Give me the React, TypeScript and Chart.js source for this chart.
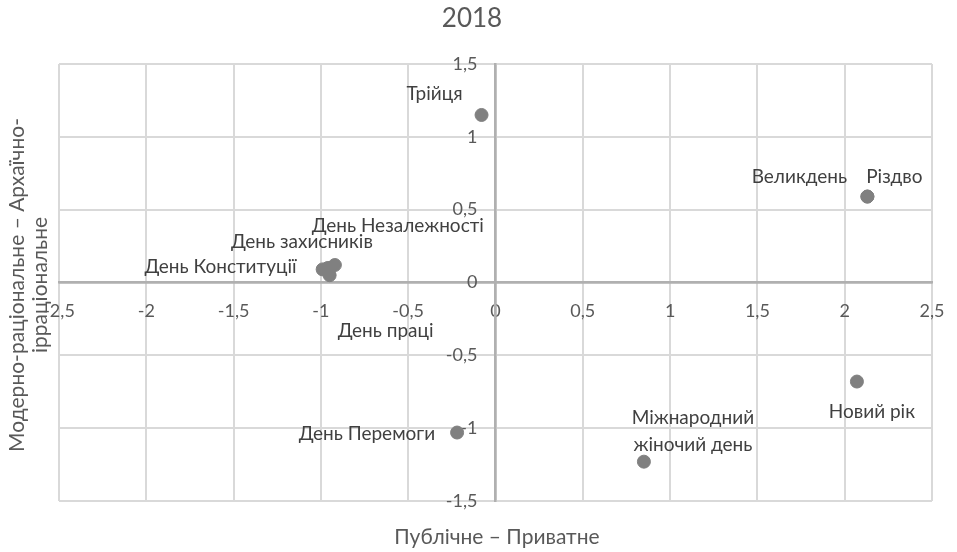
import React, { useEffect, useRef } from 'react';
import { Chart, registerables } from 'chart.js';

Chart.register(...registerables);

const holidays = [
  'Трійця',
  'Великдень',
  'Різдво',
  'Новий рік',
  'Міжнародний\nжіночий день',
  'День Перемоги',
  'День Незалежності',
  'День захисників',
  'День Конституції',
  'День праці',
];
const xValues = [-0.08, 2.13, 2.13, 2.07, 0.85, -0.22, -0.92, -0.96, -0.99, -0.95];
const yValues = [1.15, 0.59, 0.59, -0.68, -1.23, -1.03, 0.12, 0.1, 0.09, 0.05];
const xTickLabels = ['-2,5', '-2', '-1,5', '-1', '-0,5', '0', '0,5', '1', '1,5', '2', '2,5'];
const yTickLabels = ['-1,5', '-1', '-0,5', '0', '0,5', '1', '1,5'];
const chartTitle = '2018';
const xAxisTitle = 'Публічне – Приватне';
const yAxisTitleLines = ['Модерно-раціональне – Архаїчно-', 'ірраціональне'];

// label placement relative to each point (pixels)
const labelLayout: { dx: number; dy: number; align: CanvasTextAlign }[] = [
  { dx: -47, dy: -15, align: 'center' },
  { dx: -68, dy: -14, align: 'center' },
  { dx: 27, dy: -14, align: 'center' },
  { dx: 15, dy: 36, align: 'center' },
  { dx: 49, dy: -38, align: 'center' },
  { dx: -22, dy: 7, align: 'right' },
  { dx: 63, dy: -33, align: 'center' },
  { dx: -26, dy: -20, align: 'center' },
  { dx: -26, dy: 4, align: 'right' },
  { dx: 56, dy: 62, align: 'center' },
];

const FONT = 'Lato, "Open Sans", sans-serif';
const GRID = '#d9d9d9';
const AXIS = '#b0b0b0';
const Y_LABEL_GAP = 18;

const zeroPadding = (scale: any) => {
  scale.paddingLeft = 0;
  scale.paddingRight = 0;
  scale.paddingTop = 0;
  scale.paddingBottom = 0;
};

export default function App() {
  const ref = useRef<HTMLCanvasElement>(null);

  useEffect(() => {
    document.body.style.margin = '0';
    const canvas = ref.current!;
    const textPlugin = {
      id: 'customText',
      beforeDraw(chart: any) {
        // move y tick labels away from the centred axis line
        const ys = chart.scales.y;
        const items = ys.getLabelItems(chart.chartArea);
        if (items && !items.__shifted) {
          items.forEach((it: any) => {
            it.options.translation = [it.options.translation[0] - Y_LABEL_GAP, it.options.translation[1]];
          });
          items.__shifted = true;
        }
      },
      afterDatasetsDraw(chart: any) {
        const ctx = chart.ctx as CanvasRenderingContext2D;
        const meta = chart.getDatasetMeta(0);
        ctx.save();
        ctx.fillStyle = '#404040';
        ctx.font = `19px ${FONT}`;
        ctx.textBaseline = 'alphabetic';
        meta.data.forEach((pt: any, i: number) => {
          const lay = labelLayout[i];
          const lines = holidays[i].split('\n');
          ctx.textAlign = lay.align;
          lines.forEach((ln, j) => ctx.fillText(ln, pt.x + lay.dx, pt.y + lay.dy + j * 27));
        });
        // chart title
        ctx.fillStyle = '#595959';
        ctx.textAlign = 'center';
        ctx.font = `26px ${FONT}`;
        ctx.fillText(chartTitle, 472, 27);
        // x axis title
        ctx.font = `21px ${FONT}`;
        ctx.fillText(xAxisTitle, 497, 544);
        // y axis title
        const cy = 285;
        ctx.save();
        ctx.translate(0, cy);
        ctx.rotate(-Math.PI / 2);
        ctx.textBaseline = 'middle';
        ctx.fillText(yAxisTitleLines[0], 0, 17);
        ctx.fillText(yAxisTitleLines[1], 0, 40);
        ctx.restore();
        ctx.restore();
      },
    };

    const chart = new Chart(canvas, {
      type: 'scatter',
      data: {
        datasets: [
          {
            data: xValues.map((x, i) => ({ x, y: yValues[i] })),
            backgroundColor: '#808080',
            borderColor: '#808080',
            pointRadius: 6.5,
            pointHoverRadius: 6.5,
          },
        ],
      },
      options: {
        responsive: false,
        animation: false,
        events: [],
        layout: { autoPadding: false, padding: { left: 59, right: 25, top: 64, bottom: 51 } },
        plugins: {
          legend: { display: false },
          title: { display: false },
          tooltip: { enabled: false },
        },
        scales: {
          x: {
            type: 'linear',
            min: -2.5,
            max: 2.5,
            position: { y: 0 } as any,
            afterFit: zeroPadding,
            ticks: {
              stepSize: 0.5,
              padding: 18,
              color: '#595959',
              font: { family: FONT, size: 18 },
              autoSkip: false,
              maxRotation: 0,
              callback: (_v: any, i: number) => xTickLabels[i],
            },
            grid: {
              drawTicks: false,
              color: (c: any) => (c.tick && c.tick.value === 0 ? AXIS : GRID),
              lineWidth: (c: any) => (c.tick && c.tick.value === 0 ? 2.5 : 2),
            },
            border: { color: AXIS, width: 2.5 },
          },
          y: {
            type: 'linear',
            min: -1.5,
            max: 1.5,
            position: { x: 0 } as any,
            afterFit: zeroPadding,
            ticks: {
              stepSize: 0.5,
              padding: 18,
              color: '#595959',
              font: { family: FONT, size: 18 },
              autoSkip: false,
              callback: (_v: any, i: number) => yTickLabels[i],
            },
            grid: {
              drawTicks: false,
              color: (c: any) => (c.tick && c.tick.value === 0 ? AXIS : GRID),
              lineWidth: (c: any) => (c.tick && c.tick.value === 0 ? 2.5 : 2),
            },
            border: { color: AXIS, width: 2.5 },
          },
        },
      },
      plugins: [textPlugin],
    });
    return () => chart.destroy();
  }, []);

  return <canvas ref={ref} width={957} height={552} style={{ display: 'block' }} />;
}
